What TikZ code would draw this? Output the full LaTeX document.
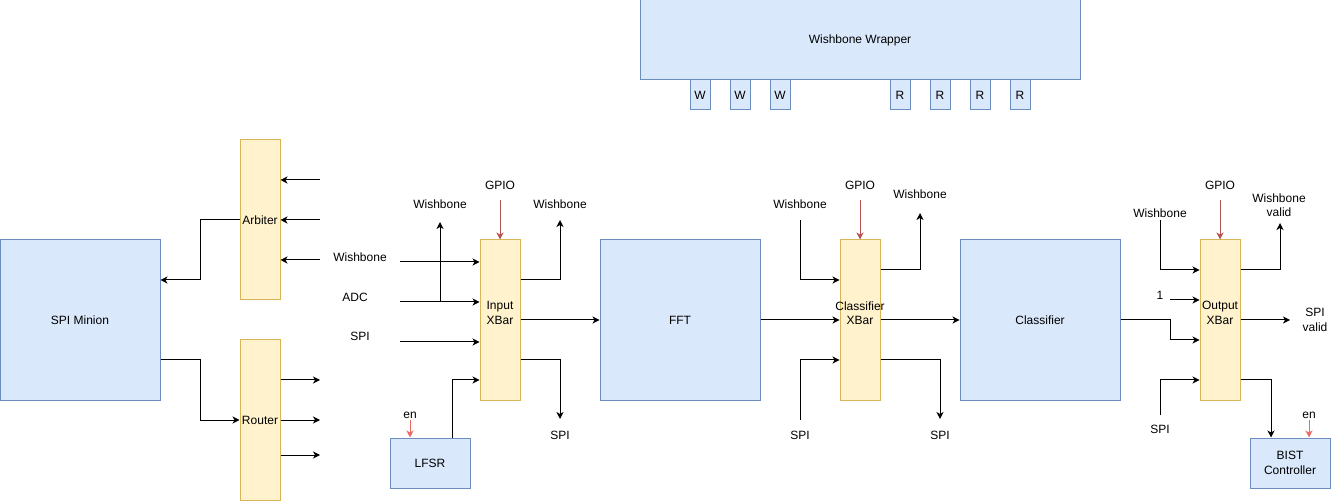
\documentclass[tikz,border=0pt]{standalone}
\usepackage{fontspec}
\setmainfont{Liberation Sans}
\usepackage{xcolor}
\usepackage{tikz}
\usetikzlibrary{shapes.geometric, arrows.meta}
\usetikzlibrary{positioning}
\definecolor{blueFill}{HTML}{DAE8FC}
\definecolor{blueLine}{HTML}{6C8EBF}
\definecolor{yellowFill}{HTML}{FFF2CC}
\definecolor{yellowLine}{HTML}{D6B656}
\definecolor{gpioRed}{HTML}{B85450}
\definecolor{enRed}{HTML}{EA6B66}
\tikzstyle{block} = [rectangle, draw=blueLine, fill=blueFill, line width=1pt, inner sep=0pt, text centered]
\tikzstyle{xbar} = [rectangle, draw=yellowLine, fill=yellowFill, line width=1pt, minimum width=40pt, minimum height=160pt, inner sep=0pt]
\tikzstyle{port} = [rectangle, draw=blueLine, fill=blueFill, line width=1pt, minimum width=20pt, minimum height=30pt, inner sep=0pt]
\tikzstyle{sig} = [inner sep=0pt, align=center]
\tikzstyle{arrow} = [line width=1pt, ->, >={Stealth[length=7pt, width=7pt, inset=2pt]}]
\tikzstyle{ctrl} = [arrow, draw=gpioRed]
\tikzstyle{enable} = [arrow, draw=enRed]

\begin{document}
\begin{tikzpicture}[x=1pt, y=-1pt, node distance=40pt, font=\fontsize{12}{14.5}\selectfont]
\useasboundingbox (0,0) rectangle (1341,502);

% wishbone wrapper
\node (wrap) [block, minimum width=440pt, minimum height=80pt] at (860,40) {Wishbone Wrapper};
\node (w1) [port] at (700,95) {W};
\node (w2) [port, right of=w1] {W};
\node (w3) [port, right of=w2] {W};
\node (r1) [port] at (900,95) {R};
\node (r2) [port, right of=r1] {R};
\node (r3) [port, right of=r2] {R};
\node (r4) [port, right of=r3] {R};

% spi side
\node (spi) [block, minimum width=160pt, minimum height=160pt] at (80,320) {SPI Minion};
\node (arb) [xbar] at (260,220) {Arbiter};
\node (rout) [xbar] at (260,420) {Router};

% main chain
\node (ixbar) [xbar, label={[sig, yshift=7pt]center:Input\\XBar}] at (500,320) {};
\node (lfsr) [block, minimum width=80pt, minimum height=50pt] at (430,463) {LFSR};
\node (fft) [block, minimum width=160pt, minimum height=160pt] at (680,320) {FFT};
\node (cxbar) [xbar, label={[sig, yshift=7pt]center:Classifier\\XBar}] at (860,320) {};
\node (cls) [block, minimum width=160pt, minimum height=160pt] at (1040,320) {Classifier};
\node (oxbar) [xbar, label={[sig, yshift=7pt]center:Output\\XBar}] at (1220,320) {};
\node (bist) [block, minimum width=80pt, minimum height=50pt, align=center] at (1290,463) {BIST\\Controller};

% signal names
\node (wbLblA) [sig] at (360,257) {Wishbone};
\node (adcLbl) [sig] at (355,297) {ADC};
\node (spiLblA) [sig] at (360,336) {SPI};
\node (wbLblB) [sig] at (440,204) {Wishbone};
\node (gpioLblA) [sig] at (500,185) {GPIO};
\node (wbLblC) [sig] at (560,204) {Wishbone};
\node (spiLblB) [sig] at (560,435) {SPI};
\node (enLblA) [sig] at (410,415) {en};
\node (wbLblD) [sig] at (800,204) {Wishbone};
\node (gpioLblB) [sig] at (860,185) {GPIO};
\node (wbLblE) [sig] at (920,194) {Wishbone};
\node (spiLblC) [sig] at (800,435) {SPI};
\node (spiLblD) [sig] at (940,435) {SPI};
\node (wbLblF) [sig] at (1160,213) {Wishbone};
\node (oneLbl) [sig] at (1160,295) {1};
\node (spiLblE) [sig] at (1160,429) {SPI};
\node (gpioLblC) [sig] at (1220,185) {GPIO};
\node (wbValid) [sig] at (1279,205) {Wishbone\\valid};
\node (spiValid) [sig] at (1315,320) {SPI\\valid};
\node (enLblB) [sig] at (1309,415) {en};

% free ends
\coordinate (arbIn1) at (320,180);
\coordinate (arbIn2) at (320,220);
\coordinate (arbIn3) at (320,260);
\coordinate (arbBend) at (200,280);
\coordinate (rtBend) at (200,420);
\coordinate (rtOut1) at (320,380);
\coordinate (rtOut2) at (320,420);
\coordinate (rtOut3) at (320,455);
\coordinate (wbInA) at (400,262);
\coordinate (adcIn) at (400,302);
\coordinate (spiInA) at (400,342);
\coordinate (wbUpA) at (440,222);
\coordinate (wbUpB) at (560,220);
\coordinate (spiDownA) at (560,419);
\coordinate (gpioInA) at (500,200);
\coordinate (enInA) at (410,420);
\coordinate (wbInB) at (800,220);
\coordinate (spiInB) at (800,420);
\coordinate (gpioInB) at (860,200);
\coordinate (wbUpC) at (920,213);
\coordinate (spiDownB) at (940,419);
\coordinate (wbInC) at (1160,220);
\coordinate (oneIn) at (1170,300);
\coordinate (clsBend) at (1170,340);
\coordinate (spiInC) at (1160,415);
\coordinate (gpioInC) at (1220,200);
\coordinate (wbUpD) at (1280,223);
\coordinate (spiOut) at (1290,320);
\coordinate (enInB) at (1309,420);

% spi minion links
\draw [arrow] (arbIn1) -- (arbIn1 -| arb.east);
\draw [arrow] (arbIn2) -- (arbIn2 -| arb.east);
\draw [arrow] (arbIn3) -- (arbIn3 -| arb.east);
\draw [arrow] (arb.west) -| (arbBend) -- (arbBend -| spi.east);
\draw [arrow] ([yshift=-40pt]spi.east) -| (rtBend) -- (rout.west);
\draw [arrow] (rtOut1 -| rout.east) -- (rtOut1);
\draw [arrow] (rtOut2 -| rout.east) -- (rtOut2);
\draw [arrow] (rtOut3 -| rout.east) -- (rtOut3);

% input xbar
\draw [arrow] (wbInA) -- (wbInA -| ixbar.west);
\draw [arrow] (adcIn) -- (adcIn -| ixbar.west);
\draw [arrow] (spiInA) -- (spiInA -| ixbar.west);
\draw [arrow] (adcIn -| wbUpA) -- (wbUpA);
\draw [arrow] ([xshift=22pt]lfsr.north) |- ([yshift=-60pt]ixbar.west);
\draw [ctrl] (gpioInA) -- (ixbar.north);
\draw [enable] (enInA) -- (enInA |- lfsr.north);
\draw [arrow] ([yshift=40pt]ixbar.east) -| (wbUpB);
\draw [arrow] (ixbar.east) -- (fft.west);
\draw [arrow] ([yshift=-40pt]ixbar.east) -| (spiDownA);

% classifier xbar
\draw [arrow] (fft.east) -- (cxbar.west);
\draw [arrow] (wbInB) |- ([yshift=40pt]cxbar.west);
\draw [arrow] (spiInB) |- ([yshift=-40pt]cxbar.west);
\draw [ctrl] (gpioInB) -- (cxbar.north);
\draw [arrow] ([yshift=50pt]cxbar.east) -| (wbUpC);
\draw [arrow] (cxbar.east) -- (cls.west);
\draw [arrow] ([yshift=-40pt]cxbar.east) -| (spiDownB);

% output xbar
\draw [arrow] (wbInC) |- ([yshift=50pt]oxbar.west);
\draw [arrow] (oneIn) -- (oneIn -| oxbar.west);
\draw [arrow] (cls.east) -| (clsBend) -- ([yshift=-20pt]oxbar.west);
\draw [arrow] (spiInC) |- ([yshift=-60pt]oxbar.west);
\draw [ctrl] (gpioInC) -- (oxbar.north);
\draw [arrow] ([yshift=50pt]oxbar.east) -| (wbUpD);
\draw [arrow] (oxbar.east) -- (spiOut);
\draw [arrow] ([yshift=-60pt]oxbar.east) -| ([xshift=-19pt]bist.north);
\draw [enable] (enInB) -- (enInB |- bist.north);
\end{tikzpicture}
\end{document}
